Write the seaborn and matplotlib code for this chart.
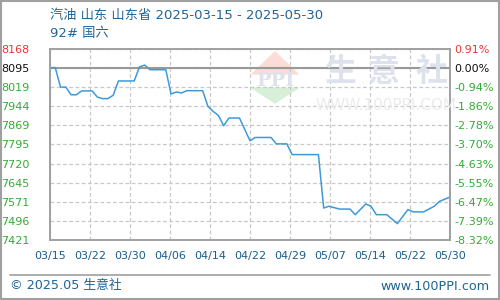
import numpy as np
import pandas as pd
import matplotlib
matplotlib.use("Agg")
import matplotlib.pyplot as plt
from matplotlib.patches import Polygon, Rectangle
from matplotlib.lines import Line2D
import seaborn as sns

# ---- data ----
start_date = "2025-03-15"
dates = ["03-15", "03-16", "03-17", "03-18", "03-19", "03-20", "03-21", "03-23",
         "03-24", "03-25", "03-26", "03-27", "03-28", "03-31", "04-01", "04-02",
         "04-03", "04-06", "04-07", "04-08", "04-09", "04-10", "04-13", "04-14",
         "04-15", "04-16", "04-17", "04-18", "04-20", "04-22", "04-23", "04-26",
         "04-27", "04-29", "04-30", "05-05", "05-06", "05-07", "05-09", "05-11",
         "05-12", "05-14", "05-15", "05-16", "05-18", "05-20", "05-22", "05-23",
         "05-25", "05-27", "05-28", "05-30"]
prices = [8095, 8095, 8019, 8019, 7989, 7989, 8004, 8004,
          7980, 7974, 7974, 7987, 8043, 8043, 8098, 8105,
          8087, 8087, 7992, 8000, 7996, 8005, 8005, 7944,
          7924, 7908, 7868, 7898, 7898, 7809, 7822, 7822,
          7797, 7797, 7755, 7755, 7546, 7553, 7542, 7542,
          7520, 7562, 7553, 7520, 7520, 7485, 7540, 7531,
          7531, 7553, 7572, 7589]
base_price = 8095
y_ticks = [7421, 7496, 7571, 7645, 7720, 7795, 7869, 7944, 8019, 8095, 8168]
pct_labels = ["-8.32%", "-7.39%", "-6.47%", "-5.55%", "-4.63%", "-3.70%",
              "-2.78%", "-1.86%", "-0.94%", "0.00%", "0.91%"]
x_labels = ["03/15", "03/22", "03/30", "04/06", "04/14", "04/22",
            "04/29", "05/07", "05/14", "05/22", "05/30"]
title1 = "汽油 山东 山东省 2025-03-15 - 2025-05-30"
title2 = "92# 国六"

# ---- build frame ----
t0 = pd.Timestamp(start_date)
dt = pd.to_datetime(["2025-" + d for d in dates])
df = pd.DataFrame({"day": (dt - t0).days.astype(float), "price": prices})
span = df["day"].max()

sns.set_theme(style="white")
plt.rcParams["font.family"] = ["DejaVu Sans", "Noto Sans CJK SC"]

fig = plt.figure(figsize=(5, 3), dpi=100)
ax = fig.add_axes([0.1, 0.2, 0.8, 191 / 300])

ymin, ymax = y_ticks[0], y_ticks[-1]
ax.set_xlim(0, span)
ax.set_ylim(ymin, ymax)

# grid
xt = np.linspace(0, span, len(x_labels))
for x in xt:
    ax.axvline(x, color="#c8c8c8", lw=0.9, ls=(0, (3, 2)), zorder=1)
for y in y_ticks:
    ax.axhline(y, color="#c8c8c8", lw=0.9, ls=(0, (3, 2)), zorder=1)
ax.axhline(base_price, color="#999999", lw=1.5, zorder=2)


def fx(px):
    return px / 500


def fy(py):
    return 1 - py / 300


# watermark
for ch, cx in zip("生意社", [340, 384, 432]):
    fig.text(fx(cx), fy(72), ch, fontsize=23, color="#dde2ec",
             ha="center", va="center", family=["Noto Sans CJK SC"],
             fontweight="bold", zorder=0)
fig.text(fx(386), fy(106), "WWW.100PPI.COM", fontsize=11,
         color="#ebebeb", ha="center", va="center", zorder=0)
tri_top = Polygon([[fx(252), fy(74)], [fx(275), fy(52)], [fx(298), fy(74)]],
                  closed=True, transform=fig.transFigure, color="#fbdcd6",
                  zorder=0)
tri_bot = Polygon([[fx(252), fy(88)], [fx(275), fy(103)], [fx(298), fy(88)]],
                  closed=True, transform=fig.transFigure, color="#d8f0d8",
                  zorder=0)
ax.add_patch(tri_top)
ax.add_patch(tri_bot)
fig.text(fx(275), fy(81), "PPI", fontsize=14, color="#dde2ec",
         ha="center", va="center", family="DejaVu Serif",
         fontweight="bold", zorder=0)

sns.lineplot(data=df, x="day", y="price", ax=ax, color="#3d9ad8", lw=1.1,
             zorder=5)

# ticks
ax.set_xticks(xt)
ax.set_xticklabels(x_labels)
ax.set_yticks(y_ticks)
ax.set_yticklabels([str(v) for v in y_ticks])
ax.tick_params(axis="x", length=0, pad=8, labelsize=8, labelcolor="#1a5e8c")
ax.tick_params(axis="y", length=0, pad=15, labelsize=8)
green = "#33aa33"
for lab, v in zip(ax.get_yticklabels(), y_ticks):
    lab.set_color("#ee3333" if v > base_price else ("#111111" if v == base_price else green))
ax.set_xlabel("")
ax.set_ylabel("")
ax.patch.set_alpha(0)

ax2 = ax.twinx()
ax2.set_ylim(ymin, ymax)
ax2.set_yticks(y_ticks)
ax2.set_yticklabels(pct_labels)
ax2.tick_params(axis="y", length=0, pad=3, labelsize=8)
for lab, v in zip(ax2.get_yticklabels(), y_ticks):
    lab.set_color("#ee3333" if v > base_price else ("#111111" if v == base_price else green))
ax2.grid(False)
ax2.patch.set_alpha(0)

for a in (ax, ax2):
    for s in a.spines.values():
        s.set_color("#a0a0a0")
        s.set_linewidth(1.2)

# titles
fig.text(fx(50), fy(15), title1, fontsize=9.5, color="#1f6496",
         ha="left", va="center")
fig.text(fx(50), fy(33), title2, fontsize=9.5, color="#1f6496",
         ha="left", va="center")

# footer
fig.add_artist(Line2D([fx(10), fx(490)], [fy(275), fy(275)],
                      transform=fig.transFigure, color="#a0a0a0", lw=1.2))
fig.text(fx(10), fy(286), "© 2025.05 生意社", fontsize=9.2,
         color="#1f6496", ha="left", va="center")
fig.text(fx(490), fy(286), "www.100PPI.com", fontsize=9.2,
         color="#1f6496", ha="right", va="center")

# outer frame
fig.add_artist(Rectangle((0.001, 0.002), 0.997, 0.995, transform=fig.transFigure,
                         fill=False, edgecolor="#a0a0a0", lw=1.5))

fig.savefig("out.png", dpi=100)
